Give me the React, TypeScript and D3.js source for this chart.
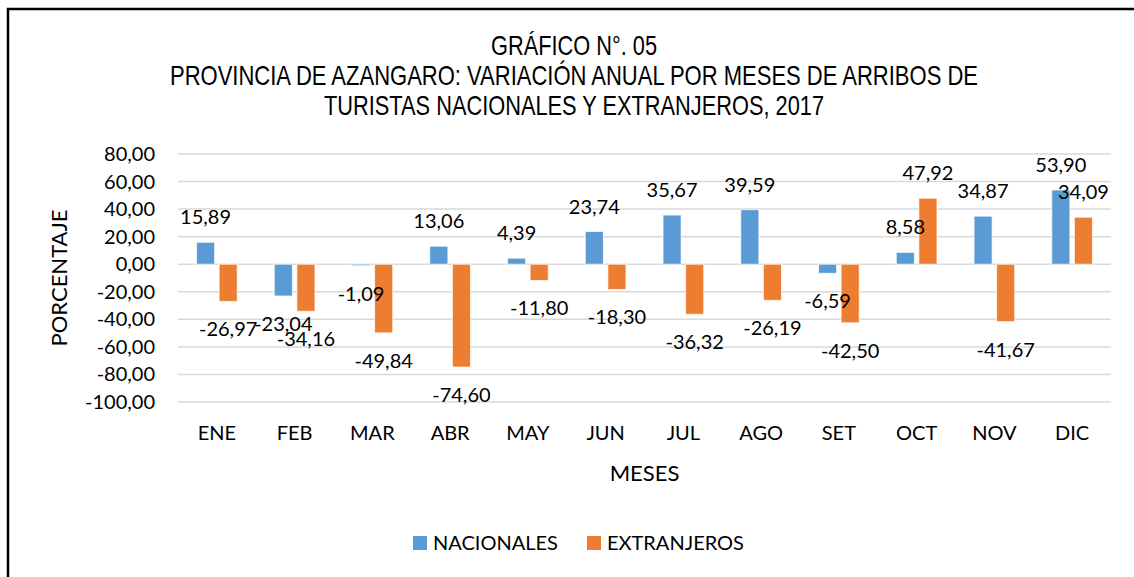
import React from "react";
import * as d3 from "d3";

const months = ["ENE", "FEB", "MAR", "ABR", "MAY", "JUN", "JUL", "AGO", "SET", "OCT", "NOV", "DIC"];
const nacionales = [15.89, -23.04, -1.09, 13.06, 4.39, 23.74, 35.67, 39.59, -6.59, 8.58, 34.87, 53.9];
const extranjeros = [-26.97, -34.16, -49.84, -74.6, -11.8, -18.3, -36.32, -26.19, -42.5, 47.92, -41.67, 34.09];
const seriesNames = ["NACIONALES", "EXTRANJEROS"];
const yTicks = [80, 60, 40, 20, 0, -20, -40, -60, -80, -100];
const titleLines = [
  "GRÁFICO N°. 05",
  "PROVINCIA DE AZANGARO: VARIACIÓN ANUAL POR MESES DE ARRIBOS DE",
  "TURISTAS NACIONALES Y EXTRANJEROS, 2017",
];
// rendered widths of the condensed title lines
const titleWidths = [166, 808, 500];

const colors = ["#5B9BD5", "#ED7D31"];
const labelFont = "Lato, 'Open Sans', sans-serif";
const titleFont = "'Liberation Sans Narrow', 'Arial Narrow', 'Liberation Sans', sans-serif";

const fmt = d3
  .formatLocale({ decimal: ",", thousands: ".", grouping: [3], currency: ["", ""], minus: "-" })
  .format(".2f");

export default function App() {
  const width = 1134;
  const height = 577;
  const plot = { left: 178, right: 1111, top: 154, bottom: 402 };

  const x0 = d3.scaleBand().domain(months).range([plot.left, plot.right]).padding(0);
  const bw = x0.bandwidth();
  // two bars per month, ~18px wide with a small gap
  const x1 = d3
    .scaleBand()
    .domain(seriesNames)
    .range([bw / 2 - 22.6, bw / 2 + 22.6])
    .paddingInner(0.2)
    .paddingOuter(0.1);

  const y = d3.scaleLinear().domain([-100, 80]).range([plot.bottom, plot.top]);

  const data = [nacionales, extranjeros];

  return (
    <svg
      width={width}
      height={height}
      style={{ position: "absolute", left: 0, top: 0, display: "block", background: "#fff" }}
    >
      {/* frame (only top and left edges fall in view) */}
      <path d={`M8,${height} L8,9 L${width},9`} fill="none" stroke="#000" strokeWidth={2.5} />

      {/* title */}
      {titleLines.map((t, i) => (
        <text
          key={t}
          x={574}
          y={55 + i * 30}
          textAnchor="middle"
          fontFamily={titleFont}
          fontSize={27.5}
          textLength={titleWidths[i]}
          lengthAdjust="spacingAndGlyphs"
          fill="#000"
        >
          {t}
        </text>
      ))}

      {/* gridlines */}
      {yTicks.map((t) => (
        <line
          key={t}
          x1={plot.left}
          x2={plot.right}
          y1={y(t)}
          y2={y(t)}
          stroke="#d9d9d9"
          strokeWidth={1.5}
        />
      ))}

      {/* y tick labels */}
      {yTicks.map((t) => (
        <text
          key={"l" + t}
          x={155}
          y={y(t) + 7}
          textAnchor="end"
          fontFamily={labelFont}
          fontSize={20}
          fill="#000"
        >
          {fmt(t)}
        </text>
      ))}

      {/* bars */}
      {data.map((vals, si) =>
        vals.map((v, mi) => {
          const bx = (x0(months[mi]) ?? 0) + (x1(seriesNames[si]) ?? 0);
          return (
            <rect
              key={si + "-" + mi}
              x={bx}
              y={Math.min(y(v), y(0))}
              width={x1.bandwidth()}
              height={Math.abs(y(v) - y(0))}
              fill={colors[si]}
              stroke="#fff"
              strokeOpacity={0.7}
              strokeWidth={1}
            />
          );
        })
      )}

      {/* data labels */}
      {data.map((vals, si) =>
        vals.map((v, mi) => {
          const cx = (x0(months[mi]) ?? 0) + (x1(seriesNames[si]) ?? 0) + x1.bandwidth() / 2;
          const ly = v >= 0 ? y(v) - 18 : y(v) + 35;
          return (
            <text
              key={"d" + si + "-" + mi}
              x={cx}
              y={ly}
              textAnchor="middle"
              fontFamily={labelFont}
              fontSize={20}
              fill="#000"
            >
              {fmt(v)}
            </text>
          );
        })
      )}

      {/* category labels */}
      {months.map((m) => (
        <text
          key={m}
          x={(x0(m) ?? 0) + bw / 2}
          y={440}
          textAnchor="middle"
          fontFamily={labelFont}
          fontSize={20}
          fill="#000"
        >
          {m}
        </text>
      ))}

      {/* axis titles */}
      <text
        x={(plot.left + plot.right) / 2}
        y={481}
        textAnchor="middle"
        fontFamily={labelFont}
        fontSize={22}
        fill="#000"
      >
        MESES
      </text>
      <text
        transform={`translate(67,${(plot.top + plot.bottom) / 2}) rotate(-90)`}
        textAnchor="middle"
        fontFamily={labelFont}
        fontSize={22}
        fill="#000"
      >
        PORCENTAJE
      </text>

      {/* legend */}
      {seriesNames.map((s, i) => {
        const lx = i === 0 ? 413 : 587;
        return (
          <g key={s}>
            <rect x={lx} y={536} width={14} height={14} fill={colors[i]} />
            <text x={lx + 20} y={550} fontFamily={labelFont} fontSize={20} fill="#000">
              {s}
            </text>
          </g>
        );
      })}
    </svg>
  );
}
